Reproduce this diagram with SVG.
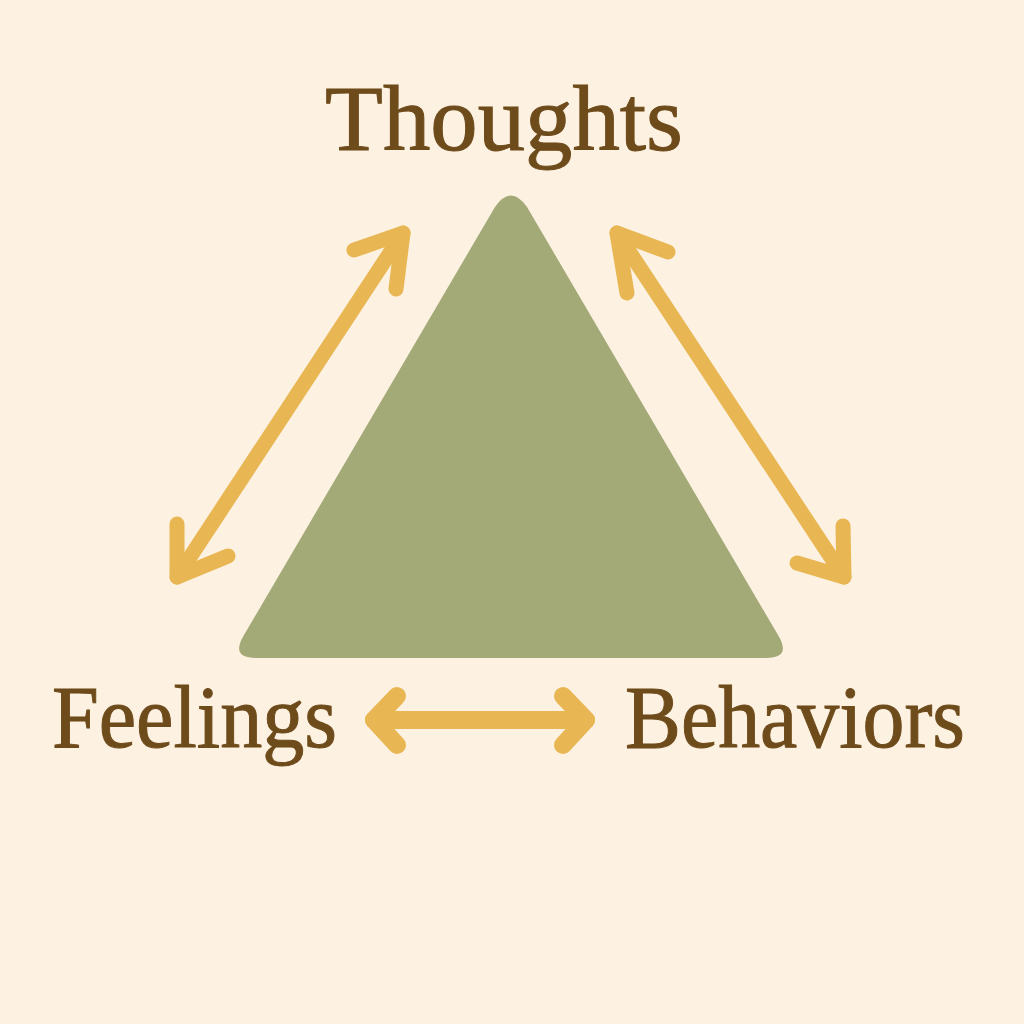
<svg xmlns="http://www.w3.org/2000/svg" width="1024" height="1024" viewBox="0 0 1024 1024">
<style>
.lbl{font-family:"Liberation Serif","DejaVu Serif",serif;fill:#6e4b1b;stroke:#6e4b1b;stroke-width:1}
.arr{fill:none;stroke:#e8b652;stroke-width:15;stroke-linecap:round;stroke-linejoin:round}
.arr.h{stroke-width:18}
</style>
<rect width="1024" height="1024" fill="#fdf1e1"/>
<g id="triangle">
<path d="M495,207 Q511,184 527,207 L778,635 Q792,658 766,658 L256,658 Q230,658 244,635 Z" fill="#a3aa77"/>
</g>
<g id="thoughts"><text class="lbl" x="504" y="150" font-size="93" text-anchor="middle" textLength="358" lengthAdjust="spacingAndGlyphs">Thoughts</text></g>
<g id="feelings"><text class="lbl" x="52" y="747" font-size="88" textLength="285" lengthAdjust="spacingAndGlyphs">Feelings</text></g>
<g id="behaviors"><text class="lbl" x="625" y="747" font-size="88" textLength="340" lengthAdjust="spacingAndGlyphs">Behaviors</text></g>
<g id="connectors">
<g id="thoughts-feelings">
<path class="arr" d="M403,233 L177,577"/>
<path class="arr" d="M354,250 L403,233 L396,289"/>
<path class="arr" d="M177,524 L177,577 L228,556"/>
</g>
<g id="thoughts-behaviors">
<path class="arr" d="M617,233 L844,577"/>
<path class="arr" d="M668,252 L617,233 L627,293"/>
<path class="arr" d="M843,526 L844,577 L797,563"/>
</g>
<g id="feelings-behaviors">
<path class="arr h" d="M374,720 L586,720"/>
<path class="arr h" d="M397,696 L374,720 L397,745"/>
<path class="arr h" d="M563,696 L586,720 L563,745"/>
</g>
</g>
</svg>
